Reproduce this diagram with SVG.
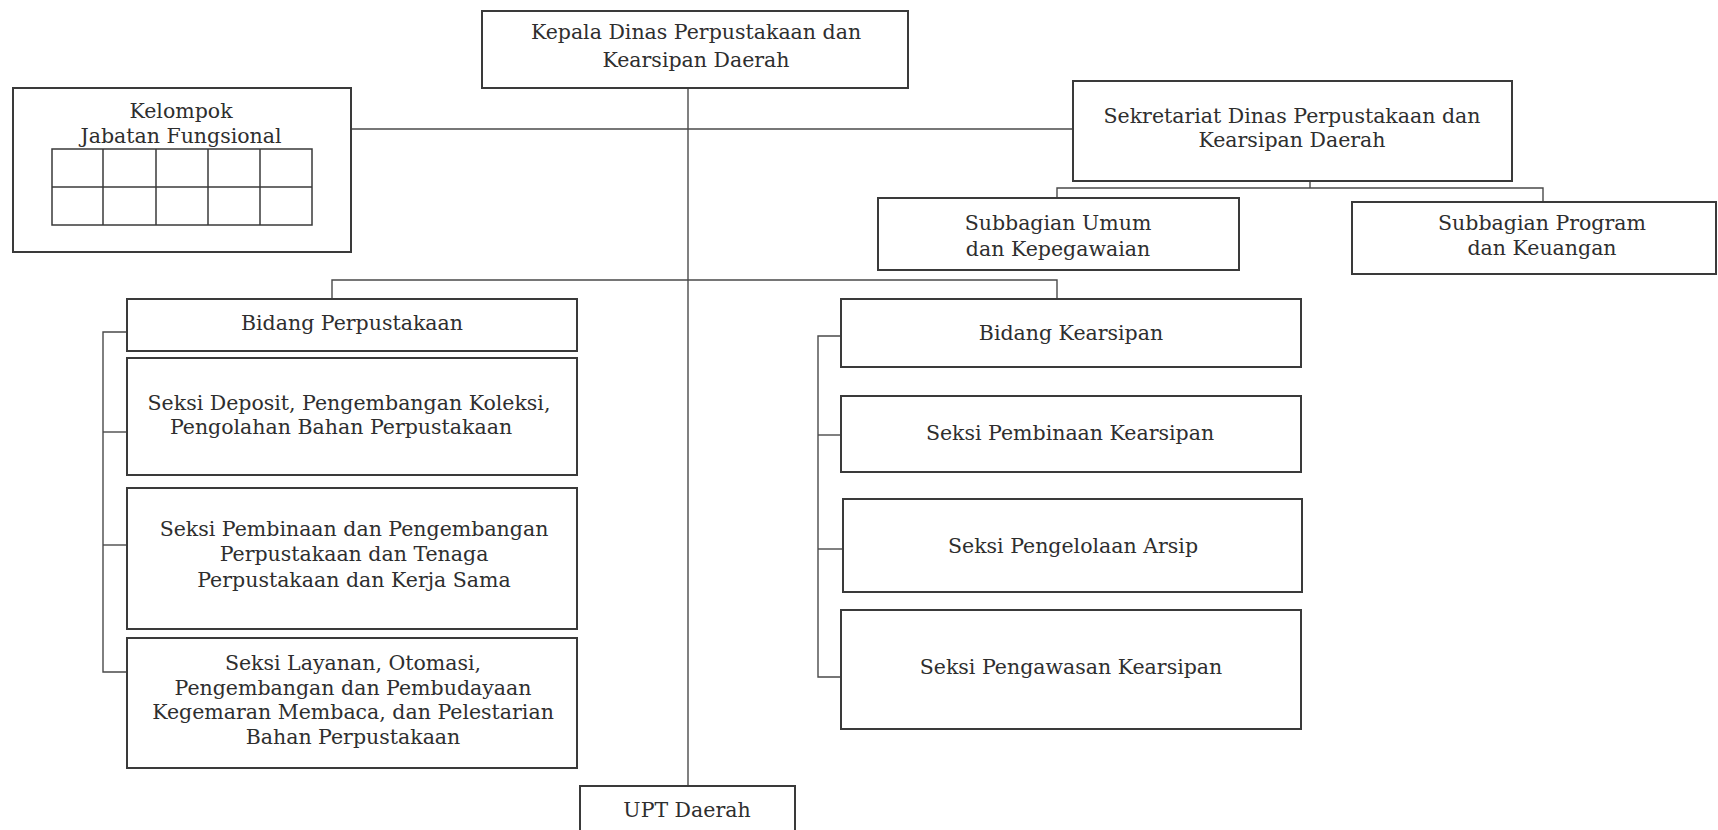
<svg xmlns="http://www.w3.org/2000/svg" width="1718" height="830" viewBox="0 0 1718 830">
  <style>
    .box { fill: #ffffff; stroke: #3a3a3a; stroke-width: 2; }
    .grid { fill: none; stroke: #3a3a3a; stroke-width: 1.5; }
    .link { fill: none; stroke: #4a4a4a; stroke-width: 1.4; }
    .lbl { font-family: "DejaVu Serif", "Liberation Serif", serif; font-size: 20.5px; fill: #2e2e2e; text-anchor: middle; }
  </style>
  <rect width="1718" height="830" fill="#ffffff"/>

  <!-- connectors -->
  <g id="connectors" class="link">
    <!-- main trunk from head of office to UPT -->
    <line x1="688" y1="88" x2="688" y2="786"/>
    <!-- staff line: functional group to secretariat -->
    <line x1="351" y1="129" x2="1073" y2="129"/>
    <!-- divisions bus -->
    <polyline points="332,299 332,280 1057,280 1057,299"/>
    <!-- secretariat sub-sections bus -->
    <line x1="1310" y1="181" x2="1310" y2="188"/>
    <polyline points="1057,198 1057,188 1543,188 1543,202"/>
    <!-- library division bracket -->
    <polyline points="127,332 103,332 103,672 127,672"/>
    <line x1="103" y1="432" x2="127" y2="432"/>
    <line x1="103" y1="545" x2="127" y2="545"/>
    <!-- archives division bracket -->
    <polyline points="841,336 818,336 818,677 841,677"/>
    <line x1="818" y1="435" x2="841" y2="435"/>
    <line x1="818" y1="549" x2="843" y2="549"/>
  </g>

  <g id="kepala">
    <rect class="box" x="482" y="11" width="426" height="77"/>
    <text class="lbl" x="696" y="39">Kepala Dinas Perpustakaan dan</text>
    <text class="lbl" x="696" y="67">Kearsipan Daerah</text>
  </g>

  <g id="kelompok-jabatan-fungsional">
    <rect class="box" x="13" y="88" width="338" height="164"/>
    <text class="lbl" x="181" y="118">Kelompok</text>
    <text class="lbl" x="181" y="143">Jabatan Fungsional</text>
    <g class="grid">
      <rect x="52" y="149" width="260" height="76"/>
      <line x1="52" y1="187" x2="312" y2="187"/>
      <line x1="103" y1="149" x2="103" y2="225"/>
      <line x1="156" y1="149" x2="156" y2="225"/>
      <line x1="208" y1="149" x2="208" y2="225"/>
      <line x1="260" y1="149" x2="260" y2="225"/>
    </g>
  </g>

  <g id="sekretariat">
    <rect class="box" x="1073" y="81" width="439" height="100"/>
    <text class="lbl" x="1292" y="123">Sekretariat Dinas Perpustakaan dan</text>
    <text class="lbl" x="1292" y="147">Kearsipan Daerah</text>
  </g>

  <g id="subbagian-umum">
    <rect class="box" x="878" y="198" width="361" height="72"/>
    <text class="lbl" x="1058" y="230">Subbagian Umum</text>
    <text class="lbl" x="1058" y="256">dan Kepegawaian</text>
  </g>

  <g id="subbagian-program">
    <rect class="box" x="1352" y="202" width="364" height="72"/>
    <text class="lbl" x="1542" y="230">Subbagian Program</text>
    <text class="lbl" x="1542" y="255">dan Keuangan</text>
  </g>

  <g id="bidang-perpustakaan">
    <rect class="box" x="127" y="299" width="450" height="52"/>
    <text class="lbl" x="352" y="330">Bidang Perpustakaan</text>
  </g>

  <g id="seksi-deposit">
    <rect class="box" x="127" y="358" width="450" height="117"/>
    <text class="lbl" x="349" y="410">Seksi Deposit, Pengembangan Koleksi,</text>
    <text class="lbl" x="341" y="434">Pengolahan Bahan Perpustakaan</text>
  </g>

  <g id="seksi-pembinaan-perpustakaan">
    <rect class="box" x="127" y="488" width="450" height="141"/>
    <text class="lbl" x="354" y="536">Seksi Pembinaan dan Pengembangan</text>
    <text class="lbl" x="354" y="561">Perpustakaan dan Tenaga</text>
    <text class="lbl" x="354" y="587">Perpustakaan dan Kerja Sama</text>
  </g>

  <g id="seksi-layanan">
    <rect class="box" x="127" y="638" width="450" height="130"/>
    <text class="lbl" x="353" y="670">Seksi Layanan, Otomasi,</text>
    <text class="lbl" x="353" y="695">Pengembangan dan Pembudayaan</text>
    <text class="lbl" x="353" y="719">Kegemaran Membaca, dan Pelestarian</text>
    <text class="lbl" x="353" y="744">Bahan Perpustakaan</text>
  </g>

  <g id="bidang-kearsipan">
    <rect class="box" x="841" y="299" width="460" height="68"/>
    <text class="lbl" x="1071" y="340">Bidang Kearsipan</text>
  </g>

  <g id="seksi-pembinaan-kearsipan">
    <rect class="box" x="841" y="396" width="460" height="76"/>
    <text class="lbl" x="1070" y="440">Seksi Pembinaan Kearsipan</text>
  </g>

  <g id="seksi-pengelolaan-arsip">
    <rect class="box" x="843" y="499" width="459" height="93"/>
    <text class="lbl" x="1073" y="553">Seksi Pengelolaan Arsip</text>
  </g>

  <g id="seksi-pengawasan-kearsipan">
    <rect class="box" x="841" y="610" width="460" height="119"/>
    <text class="lbl" x="1071" y="674">Seksi Pengawasan Kearsipan</text>
  </g>

  <g id="upt-daerah">
    <rect class="box" x="580" y="786" width="215" height="60"/>
    <text class="lbl" x="687" y="817">UPT Daerah</text>
  </g>
</svg>
